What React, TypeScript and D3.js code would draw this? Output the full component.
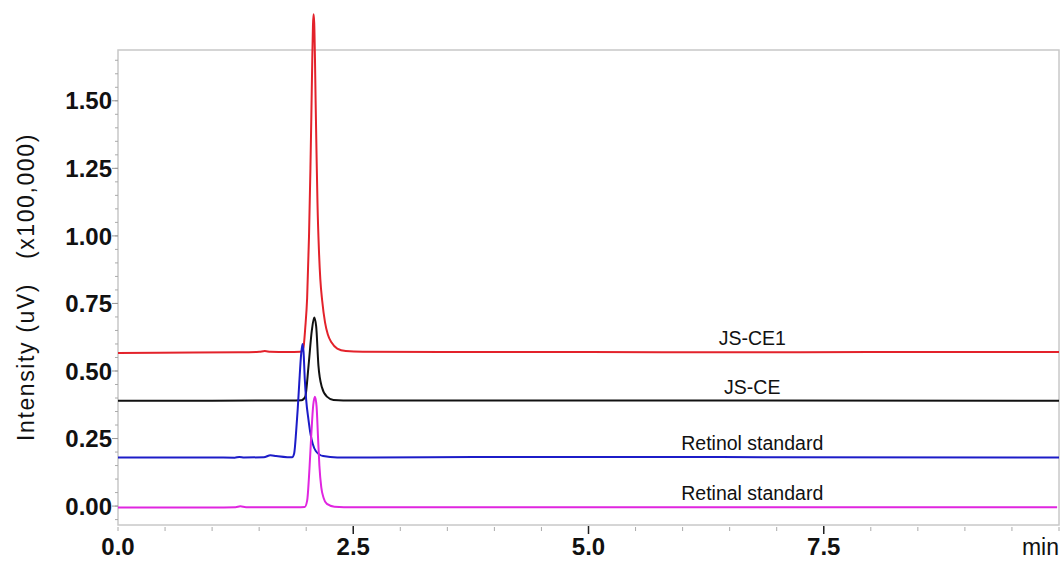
import React from 'react';
import * as d3 from 'd3';

// chromatogram traces, time in min, intensity in x100,000 uV
const redT = [0, 0.8, 1.3, 1.5, 1.56, 1.62, 1.8, 1.94, 1.97, 1.99, 2.01, 2.03, 2.045, 2.055, 2.065, 2.072, 2.078, 2.085, 2.093, 2.1, 2.11, 2.12, 2.135, 2.15, 2.17, 2.2, 2.23, 2.27, 2.33, 2.42, 2.6, 3.5, 5.0, 6.5, 8.0, 10.0];
const redV = [0.567, 0.568, 0.569, 0.571, 0.574, 0.571, 0.57, 0.571, 0.585, 0.66, 0.77, 1.0, 1.25, 1.45, 1.66, 1.78, 1.82, 1.79, 1.66, 1.5, 1.3, 1.12, 0.95, 0.84, 0.76, 0.68, 0.635, 0.605, 0.583, 0.574, 0.571, 0.57, 0.57, 0.569, 0.57, 0.57];

const blackT = [0, 1.0, 1.8, 1.95, 1.99, 2.025, 2.06, 2.085, 2.106, 2.13, 2.167, 2.22, 2.29, 2.5, 10.0];
const blackV = [0.39, 0.39, 0.391, 0.392, 0.405, 0.52, 0.65, 0.698, 0.665, 0.52, 0.44, 0.405, 0.393, 0.391, 0.39];

const blueT = [0, 1.0, 1.24, 1.29, 1.34, 1.55, 1.62, 1.68, 1.8, 1.85, 1.872, 1.894, 1.91, 1.926, 1.947, 1.961, 1.972, 1.985, 2.0, 2.024, 2.045, 2.07, 2.1, 2.18, 2.33, 3.3, 4.0, 5.5, 7.0, 10.0];
const blueV = [0.18, 0.18, 0.179, 0.182, 0.18, 0.181, 0.188, 0.185, 0.181, 0.181, 0.195, 0.28, 0.36, 0.454, 0.565, 0.6, 0.57, 0.47, 0.392, 0.32, 0.268, 0.23, 0.205, 0.185, 0.18, 0.181, 0.182, 0.182, 0.181, 0.18];

const magentaT = [0, 1.0, 1.25, 1.3, 1.36, 1.9, 1.985, 2.01, 2.035, 2.055, 2.075, 2.093, 2.11, 2.125, 2.14, 2.16, 2.185, 2.22, 2.3, 2.5, 5.0, 9.98];
const magentaV = [-0.005, -0.005, -0.004, -0.001, -0.004, -0.004, -0.003, 0.02, 0.14, 0.27, 0.375, 0.405, 0.37, 0.26, 0.15, 0.07, 0.03, 0.008, -0.002, -0.004, -0.004, -0.004];

const seriesNames = ['JS-CE1', 'JS-CE', 'Retinol standard', 'Retinal standard'];
const seriesBaselines = [0.57, 0.39, 0.18, -0.004];
const labelTime = 6.74;

const xTicks = [0, 2.5, 5.0, 7.5];
const xTickLabels = ['0.0', '2.5', '5.0', '7.5'];
const yTicks = [0, 0.25, 0.5, 0.75, 1.0, 1.25, 1.5];

const colors = ['#e3222b', '#111111', '#1c1cc8', '#e026e0'];

export default function App() {
  const W = 1062;
  const H = 561;
  const left = 118, right = 1059, top = 50, bottom = 525;

  const x = d3.scaleLinear().domain([0, 10]).range([left, right]);
  const y = d3.scaleLinear().domain([-0.07, 1.688]).range([bottom, top]);

  const line = d3.line<[number, number]>()
    .x(d => x(d[0]))
    .y(d => y(d[1]))
    .curve(d3.curveMonotoneX);

  const traces = [
    d3.zip(redT, redV),
    d3.zip(blackT, blackV),
    d3.zip(blueT, blueV),
    d3.zip(magentaT, magentaV),
  ] as [number, number][][];

  const xMinor = d3.range(0, 10.01, 0.5);
  const yMinor = d3.range(-0.05, 1.66, 0.05);

  return (
    <svg width={W} height={H} style={{ position: 'absolute', left: 0, top: 0, background: '#fff' }}
      fontFamily="'Liberation Sans', Arial, sans-serif">
      <rect x={left} y={top} width={right - left} height={bottom - top} fill="none" stroke="#c8c8c8" strokeWidth={1.5} />

      {/* x ticks */}
      {xMinor.map((t, i) => (
        <line key={'xm' + i} x1={x(t)} x2={x(t)} y1={bottom + 2} y2={bottom + 6} stroke="#aaa" strokeWidth={1} />
      ))}
      {xTicks.filter(t => t > 0).map(t => (
        <line key={'xM' + t} x1={x(t)} x2={x(t)} y1={bottom + 1} y2={bottom + 9} stroke="#222" strokeWidth={1.5} />
      ))}
      {xTicks.map((t, i) => (
        <text key={'xl' + t} x={x(t)} y={555} textAnchor="middle" fontSize={24} fontWeight="bold" fill="#111">{xTickLabels[i]}</text>
      ))}
      <text x={right} y={555} textAnchor="end" fontSize={23} fill="#111">min</text>

      {/* y ticks */}
      {yMinor.map((v, i) => (
        <line key={'ym' + i} x1={left - 3} x2={left} y1={y(v)} y2={y(v)} stroke="#aaa" strokeWidth={1} />
      ))}
      {yTicks.map(v => (
        <line key={'yM' + v} x1={left - 6} x2={left} y1={y(v)} y2={y(v)} stroke="#999" strokeWidth={1} />
      ))}
      {yTicks.map(v => (
        <text key={'yl' + v} x={112} y={y(v)} dy="0.36em" textAnchor="end" fontSize={24} fontWeight="bold" fill="#111">{v.toFixed(2)}</text>
      ))}
      <text transform="translate(34,287) rotate(-90)" textAnchor="middle" fontSize={23} letterSpacing={1.6}
        fill="#111" style={{ whiteSpace: 'pre' }}>
        {'Intensity (uV)   (x100,000)'}
      </text>

      {/* traces */}
      {traces.map((d, i) => (
        <path key={'tr' + i} d={line(d) || ''} fill="none" stroke={colors[i]} strokeWidth={2} strokeLinejoin="round" />
      ))}
      {seriesNames.map((name, i) => (
        <text key={'lb' + i} x={x(labelTime)} y={y(seriesBaselines[i]) - 7} textAnchor="middle" fontSize={19.5} fill="#111">{name}</text>
      ))}
    </svg>
  );
}
